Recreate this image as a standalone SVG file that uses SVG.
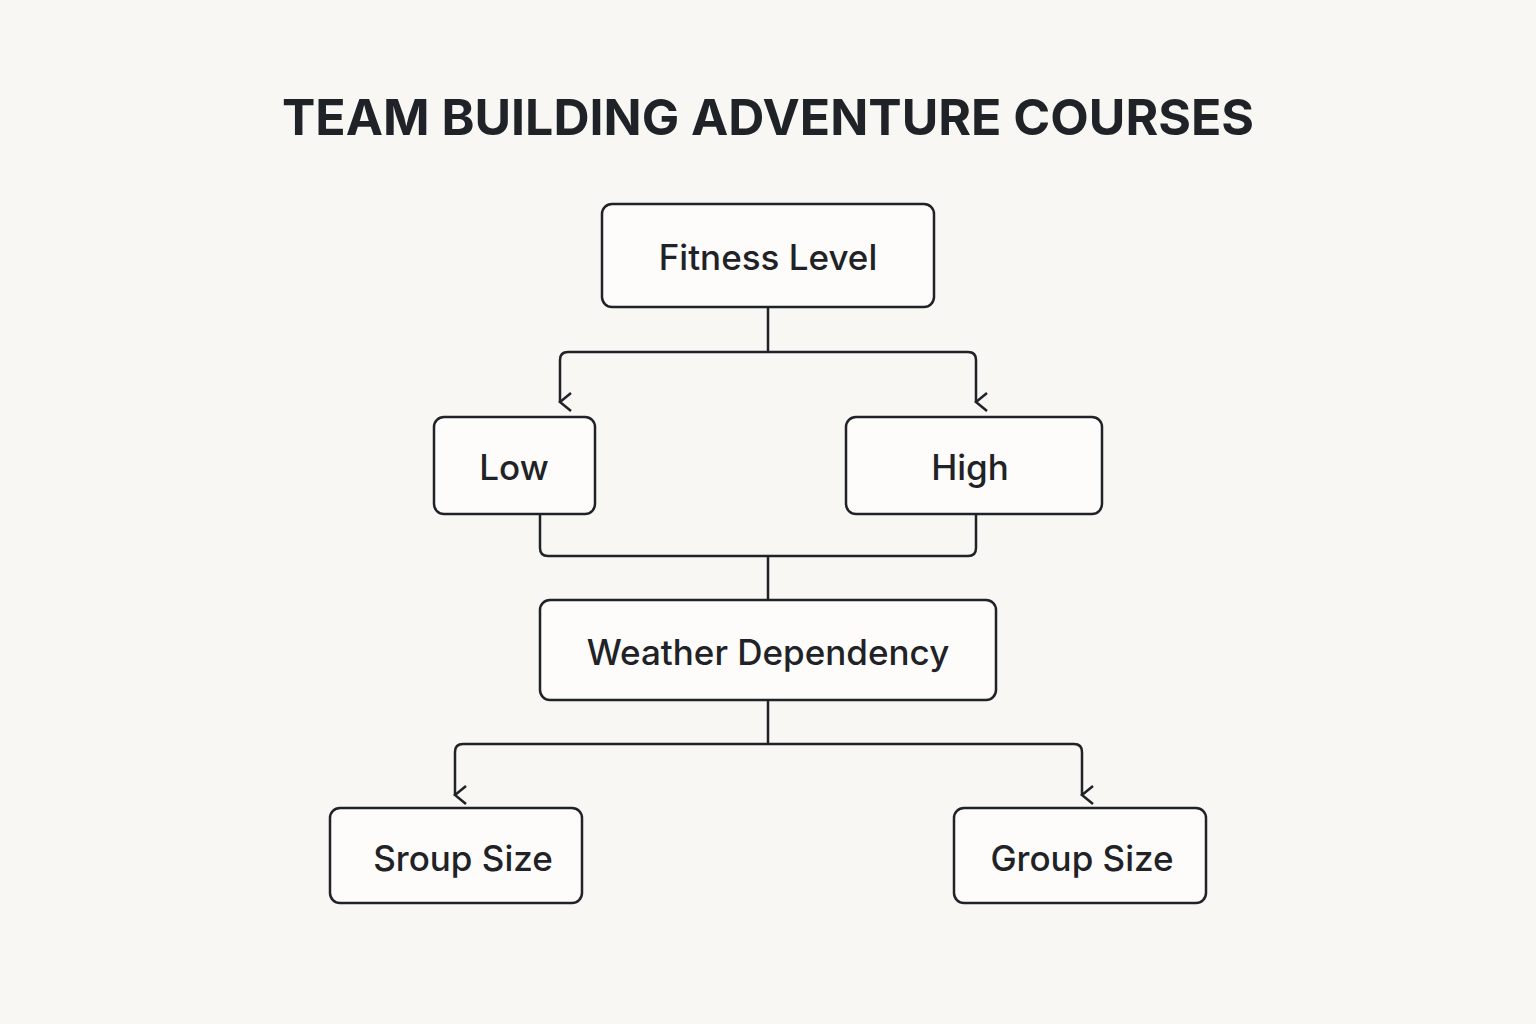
<svg xmlns="http://www.w3.org/2000/svg" width="1536" height="1024" viewBox="0 0 1536 1024">
<style>
.n{fill:#fdfcfa;stroke:#1f2226;stroke-width:2.5}
.t{font-family:Inter,"Liberation Sans",sans-serif;font-size:35px;font-weight:500;fill:#1f2226;text-anchor:middle;dominant-baseline:central}
.c{fill:none;stroke:#1f2226;stroke-width:2.5}
</style>
<defs><marker id="a" viewBox="0 0 20 14" refX="10" refY="12" markerWidth="20" markerHeight="14" markerUnits="userSpaceOnUse" orient="auto-start-reverse"><path d="M1 1 L10 12 L19 1" fill="none" stroke="#1f2226" stroke-width="2.5"/></marker></defs>
<rect width="1536" height="1024" fill="#f8f7f4"/>
<text x="768" y="117" font-family="Inter,'Liberation Sans',sans-serif" font-size="50" font-weight="700" fill="#1f2226" text-anchor="middle" dominant-baseline="central">TEAM BUILDING ADVENTURE COURSES</text>
<g id="connectors">
<path class="c" d="M768 307 V352 M568 352 H968"/>
<path class="c" d="M568 352 Q560 352 560 360 V402" marker-end="url(#a)"/>
<path class="c" d="M968 352 Q976 352 976 360 V402" marker-end="url(#a)"/>
<path class="c" d="M540 514 V548 Q540 556 548 556 H968 Q976 556 976 548 V514 M768 556 V600"/>
<path class="c" d="M768 700 V744 M463 744 H1074"/>
<path class="c" d="M463 744 Q455 744 455 752 V795" marker-end="url(#a)"/>
<path class="c" d="M1074 744 Q1082 744 1082 752 V795" marker-end="url(#a)"/>
</g>
<g id="fitness"><rect class="n" x="602" y="204" width="332" height="103" rx="10"/><text class="t" x="768" y="257">Fitness Level</text></g>
<g id="low"><rect class="n" x="434" y="417" width="161" height="97" rx="10"/><text class="t" x="514" y="467">Low</text></g>
<g id="high"><rect class="n" x="846" y="417" width="256" height="97" rx="10"/><text class="t" x="970" y="467">High</text></g>
<g id="weather"><rect class="n" x="540" y="600" width="456" height="100" rx="10"/><text class="t" x="768" y="652">Weather Dependency</text></g>
<g id="sroup"><rect class="n" x="330" y="808" width="252" height="95" rx="10"/><text class="t" x="463" y="858">Sroup Size</text></g>
<g id="group"><rect class="n" x="954" y="808" width="252" height="95" rx="10"/><text class="t" x="1082" y="858">Group Size</text></g>
</svg>
